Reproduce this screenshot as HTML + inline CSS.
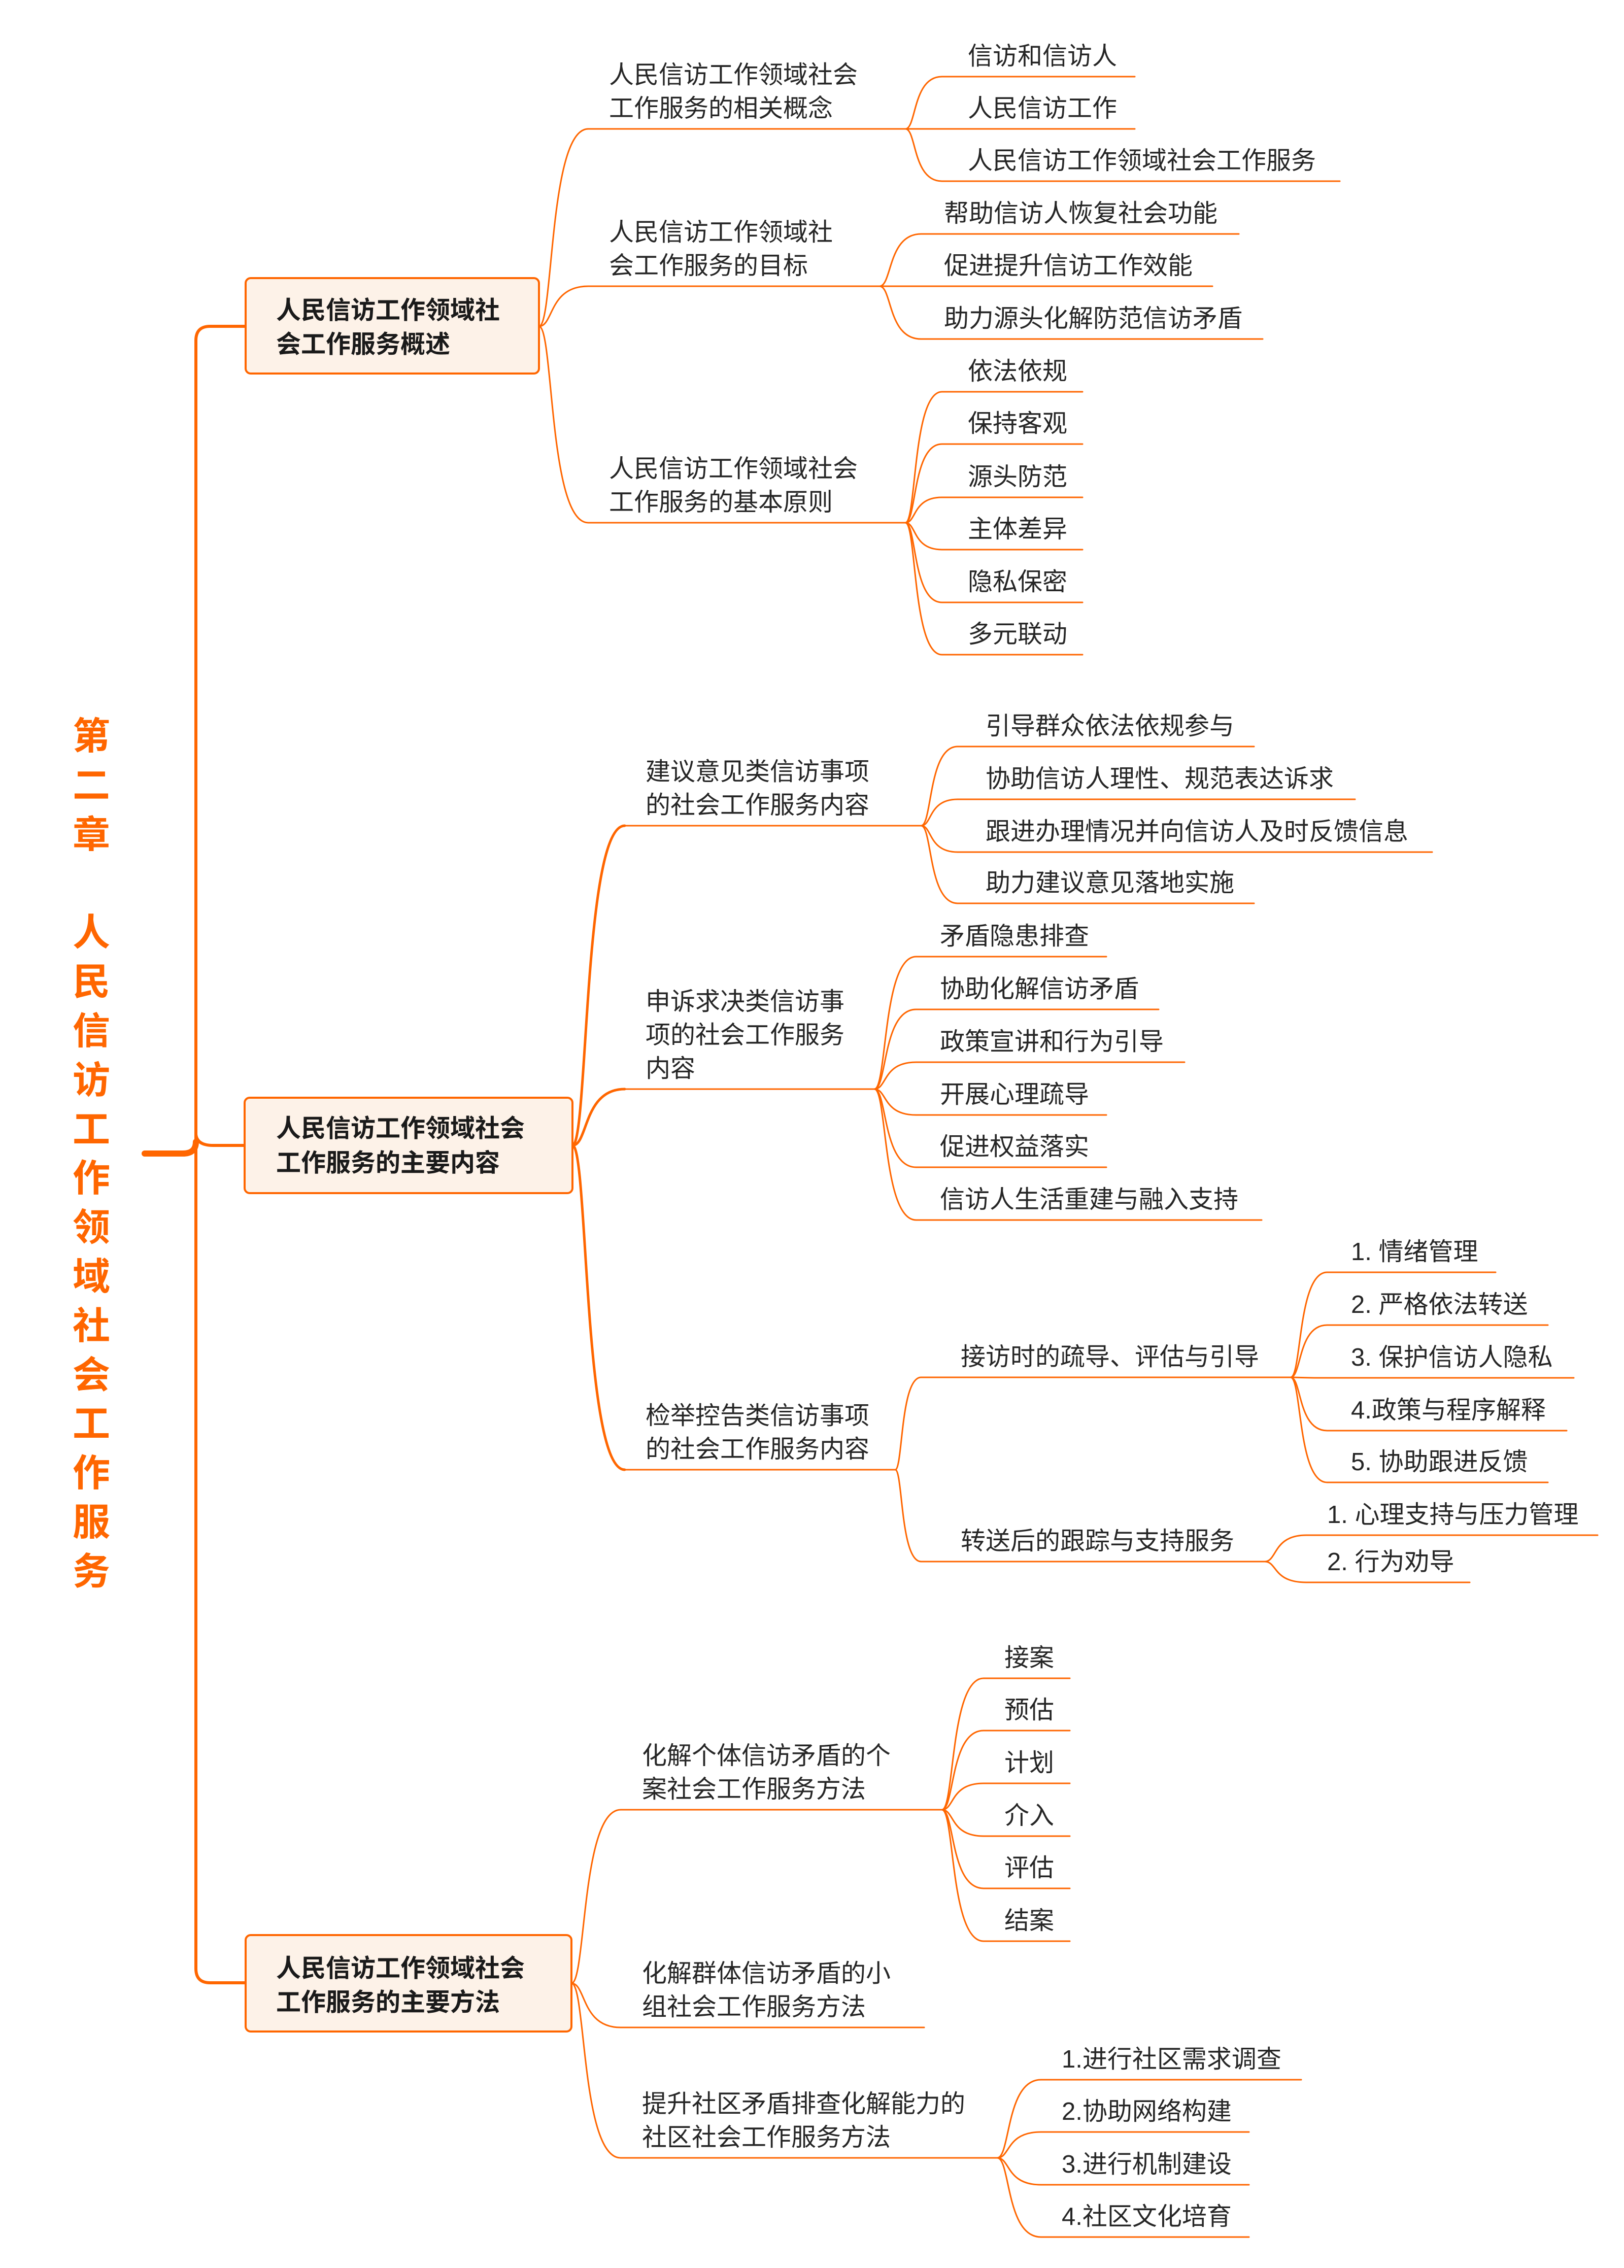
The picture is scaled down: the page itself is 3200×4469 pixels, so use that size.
<!DOCTYPE html>
<html><head><meta charset="utf-8"><style>
html,body{margin:0;padding:0;background:#fff;}
svg{display:block;}
.t{font-family:"Liberation Sans","Noto Sans CJK SC",sans-serif;font-size:49px;fill:#262626;}
.b{font-family:"Liberation Sans","Noto Sans CJK SC",sans-serif;font-size:49px;font-weight:bold;fill:#1a1a1a;}
.h{font-family:"Liberation Sans","Noto Sans CJK SC",sans-serif;font-size:74px;font-weight:bold;fill:#FF6600;}
</style></head><body>
<svg width="3200" height="4469" viewBox="0 0 3200 4469" xmlns="http://www.w3.org/2000/svg">
<g fill="none" stroke="#FF6600" stroke-linecap="round">
<!-- trunk -->
<path d="M484 643 H414 Q386 643 386 671 V3879 Q386 3907 414 3907 H484" stroke-width="6"/>
<path d="M386 2235 Q388 2257 420 2257 H482" stroke-width="6"/>
<path d="M285 2273 H360 Q386 2273 386 2250" stroke-width="12"/>
<!-- box1 -->
<g stroke-width="3">
<path d="M1062 643 C1091 643 1081 254 1159 254 H1784"/>
<path d="M1062 643 C1091 643 1081 564 1159 564 H1733"/>
<path d="M1062 643 C1091 643 1081 1030 1159 1030 H1784"/>
<path d="M1784 254 C1806 254 1798 151 1856 151 H2236"/>
<path d="M1784 254 H2236"/>
<path d="M1784 254 C1806 254 1798 357 1856 357 H2640"/>
<path d="M1733 564 C1758 564 1749 461 1815 461 H2441"/>
<path d="M1733 564 H2389"/>
<path d="M1733 564 C1758 564 1749 668 1815 668 H2488"/>
<path d="M1784 1030 C1806 1030 1798 772 1856 772 H2133"/>
<path d="M1784 1030 C1806 1030 1798 875 1856 875 H2133"/>
<path d="M1784 1030 C1806 1030 1798 980 1856 980 H2133"/>
<path d="M1784 1030 C1806 1030 1798 1083 1856 1083 H2133"/>
<path d="M1784 1030 C1806 1030 1798 1187 1856 1187 H2133"/>
<path d="M1784 1030 C1806 1030 1798 1290 1856 1290 H2133"/>
</g>
<!-- box2 -->
<g stroke-width="5">
<path d="M1128 2257 C1159 2257 1149 1627 1231 1627"/>
<path d="M1128 2257 C1159 2257 1149 2146 1231 2146"/>
<path d="M1128 2257 C1159 2257 1149 2896 1231 2896"/>
</g>
<g stroke-width="3">
<path d="M1231 1627 H1815"/>
<path d="M1231 2146 H1723"/>
<path d="M1231 2896 H1764"/>
<path d="M1815 1627 C1837 1627 1829 1471 1887 1471 H2471"/>
<path d="M1815 1627 C1837 1627 1829 1575 1887 1575 H2670"/>
<path d="M1815 1627 C1837 1627 1829 1679 1887 1679 H2822"/>
<path d="M1815 1627 C1837 1627 1829 1780 1887 1780 H2471"/>
<path d="M1723 2146 C1748 2146 1739 1885 1805 1885 H2180"/>
<path d="M1723 2146 C1748 2146 1739 1989 1805 1989 H2283"/>
<path d="M1723 2146 C1748 2146 1739 2093 1805 2093 H2334"/>
<path d="M1723 2146 C1748 2146 1739 2197 1805 2197 H2180"/>
<path d="M1723 2146 C1748 2146 1739 2300 1805 2300 H2180"/>
<path d="M1723 2146 C1748 2146 1739 2404 1805 2404 H2486"/>
<path d="M1764 2896 C1779 2896 1774 2714 1815 2714 H2543"/>
<path d="M1764 2896 C1779 2896 1774 3077 1815 3077 H2492"/>
<path d="M2543 2714 C2565 2714 2557 2507 2615 2507 H2947"/>
<path d="M2543 2714 C2565 2714 2557 2611 2615 2611 H3050"/>
<path d="M2543 2714 C2565 2714 2557 2715 2615 2715 H3101"/>
<path d="M2543 2714 C2565 2714 2557 2819 2615 2819 H3087"/>
<path d="M2543 2714 C2565 2714 2557 2921 2615 2921 H3050"/>
<path d="M2492 3077 C2517 3077 2508 3025 2574 3025 H3148"/>
<path d="M2492 3077 C2517 3077 2508 3118 2574 3118 H2896"/>
</g>
<!-- box3 -->
<g stroke-width="3">
<path d="M1126 3908 C1155 3908 1145 3566 1223 3566 H1856"/>
<path d="M1126 3908 C1155 3908 1145 3995 1223 3995 H1821"/>
<path d="M1126 3908 C1155 3908 1145 4252 1223 4252 H1965"/>
<path d="M1856 3566 C1881 3566 1872 3307 1938 3307 H2108"/>
<path d="M1856 3566 C1881 3566 1872 3410 1938 3410 H2108"/>
<path d="M1856 3566 C1881 3566 1872 3514 1938 3514 H2108"/>
<path d="M1856 3566 C1881 3566 1872 3618 1938 3618 H2108"/>
<path d="M1856 3566 C1881 3566 1872 3721 1938 3721 H2108"/>
<path d="M1856 3566 C1881 3566 1872 3825 1938 3825 H2108"/>
<path d="M1965 4252 C1991 4252 1982 4098 2051 4098 H2564"/>
<path d="M1965 4252 C1991 4252 1982 4201 2051 4201 H2461"/>
<path d="M1965 4252 C1991 4252 1982 4305 2051 4305 H2461"/>
<path d="M1965 4252 C1991 4252 1982 4408 2051 4408 H2461"/>
</g>
</g>
<!-- boxes -->
<g fill="#FDF2E8" stroke="#FF6600" stroke-width="4">
<rect x="484" y="548" width="578" height="188" rx="10"/>
<rect x="482" y="2163" width="646" height="188" rx="10"/>
<rect x="484" y="3813" width="642" height="190" rx="10"/>
</g>
<text class="b" x="544" y="628">人民信访工作领域社</text>
<text class="b" x="544" y="695">会工作服务概述</text>
<text class="b" x="544" y="2240">人民信访工作领域社会</text>
<text class="b" x="544" y="2308">工作服务的主要内容</text>
<text class="b" x="544" y="3895">人民信访工作领域社会</text>
<text class="b" x="544" y="3962">工作服务的主要方法</text>

<!-- title -->
<g class="h" text-anchor="middle">
<text x="180" y="1476">第</text><text x="180" y="1573">二</text><text x="180" y="1670">章</text>
<text x="180" y="1863">人</text><text x="180" y="1960">民</text><text x="180" y="2057">信</text><text x="180" y="2154">访</text>
<text x="180" y="2251">工</text><text x="180" y="2347">作</text><text x="180" y="2444">领</text><text x="180" y="2541">域</text>
<text x="180" y="2638">社</text><text x="180" y="2735">会</text><text x="180" y="2831">工</text><text x="180" y="2928">作</text>
<text x="180" y="3025">服</text><text x="180" y="3122">务</text>
</g>

<g class="t">
<!-- level 2 box1 -->
<text x="1200" y="164">人民信访工作领域社会</text><text x="1200" y="230">工作服务的相关概念</text>
<text x="1200" y="474">人民信访工作领域社</text><text x="1200" y="540">会工作服务的目标</text>
<text x="1200" y="940">人民信访工作领域社会</text><text x="1200" y="1006">工作服务的基本原则</text>
<text x="1907" y="127">信访和信访人</text>
<text x="1907" y="230">人民信访工作</text>
<text x="1907" y="333">人民信访工作领域社会工作服务</text>
<text x="1860" y="437">帮助信访人恢复社会功能</text>
<text x="1860" y="540">促进提升信访工作效能</text>
<text x="1860" y="644">助力源头化解防范信访矛盾</text>
<text x="1907" y="748">依法依规</text>
<text x="1907" y="851">保持客观</text>
<text x="1907" y="956">源头防范</text>
<text x="1907" y="1059">主体差异</text>
<text x="1907" y="1163">隐私保密</text>
<text x="1907" y="1266">多元联动</text>

<!-- box2 -->
<text x="1272" y="1537">建议意见类信访事项</text><text x="1272" y="1603">的社会工作服务内容</text>
<text x="1942" y="1447">引导群众依法依规参与</text>
<text x="1942" y="1551">协助信访人理性、规范表达诉求</text>
<text x="1942" y="1655">跟进办理情况并向信访人及时反馈信息</text>
<text x="1942" y="1756">助力建议意见落地实施</text>
<text x="1272" y="1990">申诉求决类信访事</text><text x="1272" y="2056">项的社会工作服务</text><text x="1272" y="2122">内容</text>
<text x="1852" y="1861">矛盾隐患排查</text>
<text x="1852" y="1965">协助化解信访矛盾</text>
<text x="1852" y="2069">政策宣讲和行为引导</text>
<text x="1852" y="2173">开展心理疏导</text>
<text x="1852" y="2276">促进权益落实</text>
<text x="1852" y="2380">信访人生活重建与融入支持</text>
<text x="1272" y="2806">检举控告类信访事项</text><text x="1272" y="2872">的社会工作服务内容</text>
<text x="1893" y="2690">接访时的疏导、评估与引导</text>
<text x="1893" y="3053">转送后的跟踪与支持服务</text>
<text x="2662" y="2483">1. 情绪管理</text>
<text x="2662" y="2587">2. 严格依法转送</text>
<text x="2662" y="2691">3. 保护信访人隐私</text>
<text x="2662" y="2795">4.政策与程序解释</text>
<text x="2662" y="2897">5. 协助跟进反馈</text>
<text x="2615" y="3001">1. 心理支持与压力管理</text>
<text x="2615" y="3094">2. 行为劝导</text>

<!-- box3 -->
<text x="1265" y="3476">化解个体信访矛盾的个</text><text x="1265" y="3542">案社会工作服务方法</text>
<text x="1979" y="3283">接案</text>
<text x="1979" y="3386">预估</text>
<text x="1979" y="3490">计划</text>
<text x="1979" y="3594">介入</text>
<text x="1979" y="3697">评估</text>
<text x="1979" y="3801">结案</text>
<text x="1265" y="3905">化解群体信访矛盾的小</text><text x="1265" y="3971">组社会工作服务方法</text>
<text x="1265" y="4162">提升社区矛盾排查化解能力的</text><text x="1265" y="4228">社区社会工作服务方法</text>
<text x="2092" y="4074">1.进行社区需求调查</text>
<text x="2092" y="4177">2.协助网络构建</text>
<text x="2092" y="4281">3.进行机制建设</text>
<text x="2092" y="4384">4.社区文化培育</text>
</g>
</svg>
</body></html>
